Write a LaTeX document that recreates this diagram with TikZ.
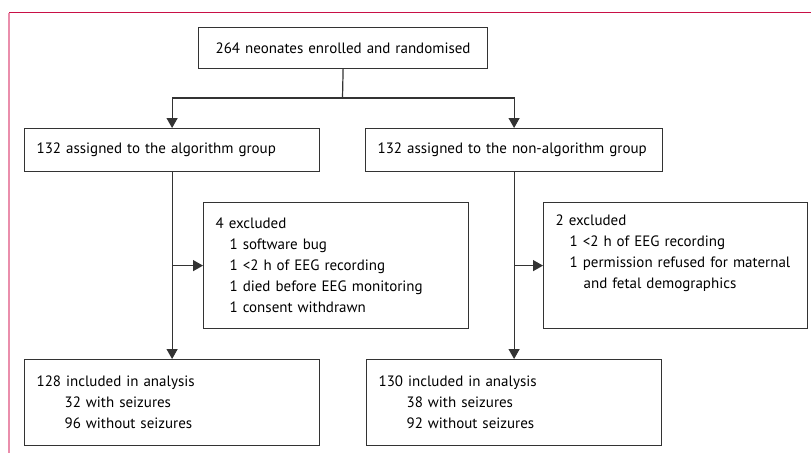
\documentclass[tikz,border=0pt]{standalone}
\usepackage{fontspec}
\setmainfont{PT Sans}
\usetikzlibrary{positioning,arrows.meta,calc}
\definecolor{lancet}{RGB}{200,16,70}
\definecolor{lancetpale}{RGB}{234,142,172}
\definecolor{ink}{RGB}{51,51,51}
\newcommand{\ind}{\hspace*{14pt}}
\tikzset{
  flowbox/.style={draw=ink,line width=1.2pt,anchor=north west,inner xsep=12pt,inner ysep=0pt,
    align=left,font=\fontsize{15}{21}\selectfont},
  conn/.style={draw=ink,line width=1.2pt},
  arr/.style={conn,-{Triangle[length=10pt,width=11pt]}},  % flow arrow
  % ---- frame of the figure panel ----
  frametop/.style={draw=lancet,line width=1.5pt},
  frameleft/.style={draw=lancetpale,line width=2pt},
}
\begin{document}
\begin{tikzpicture}[x=1pt,y=-1pt]
  \useasboundingbox (0,0) rectangle (811,453);
  \draw[frametop] (9,12.7) -- (811,12.7);
  \draw[frameleft] (9,12.7) -- (9,453);
  % enrolment
  \node[flowbox,align=center,text width=265pt,minimum height=41pt] (enrol) at (198,27)
    {264 neonates enrolled and randomised};
  \coordinate (split) at (342.5,98);
  % allocation
  \node[flowbox,text width=271pt,minimum height=43pt] (alg) at (24,128)
    {132 assigned to the algorithm group};
  \node[flowbox,text width=273pt,minimum height=43pt] (nonalg) at (365,128)
    {132 assigned to the non-algorithm group};
  % exclusions
  \node[flowbox,text width=241pt,minimum height=126pt] (excA) at (203,202)
    {4 excluded\\ \ind 1 software bug\\ \ind 1 <2 h of EEG recording\\
     \ind 1 died before EEG monitoring\\ \ind 1 consent withdrawn};
  \node[flowbox,text width=240pt,minimum height=126pt] (excB) at (543,202)
    {2 excluded\\ \ind 1 <2 h of EEG recording\\ \ind 1 permission refused for maternal\\
     \ind\ind and fetal demographics\\ \strut};
  % analysis
  \node[flowbox,text width=271pt,minimum height=86pt] (anaA) at (24,359)
    {128 included in analysis\\ \ind\ind 32 with seizures\\ \ind\ind 96 without seizures};
  \node[flowbox,text width=271pt,minimum height=86pt] (anaB) at (366,359)
    {130 included in analysis\\ \ind\ind 38 with seizures\\ \ind\ind 92 without seizures};

  \draw[conn] (enrol.south) -- (split);
  \draw[arr] (split) -| (alg.north);
  \draw[arr] (split) -| (nonalg.north);
  \draw[arr] (alg.south) -- (anaA.north);
  \draw[arr] (nonalg.south) -- (anaB.north);
  \draw[arr] (alg.south |- excA.west) -- (excA.west);
  \draw[arr] (nonalg.south |- excB.west) -- (excB.west);
\end{tikzpicture}
\end{document}
